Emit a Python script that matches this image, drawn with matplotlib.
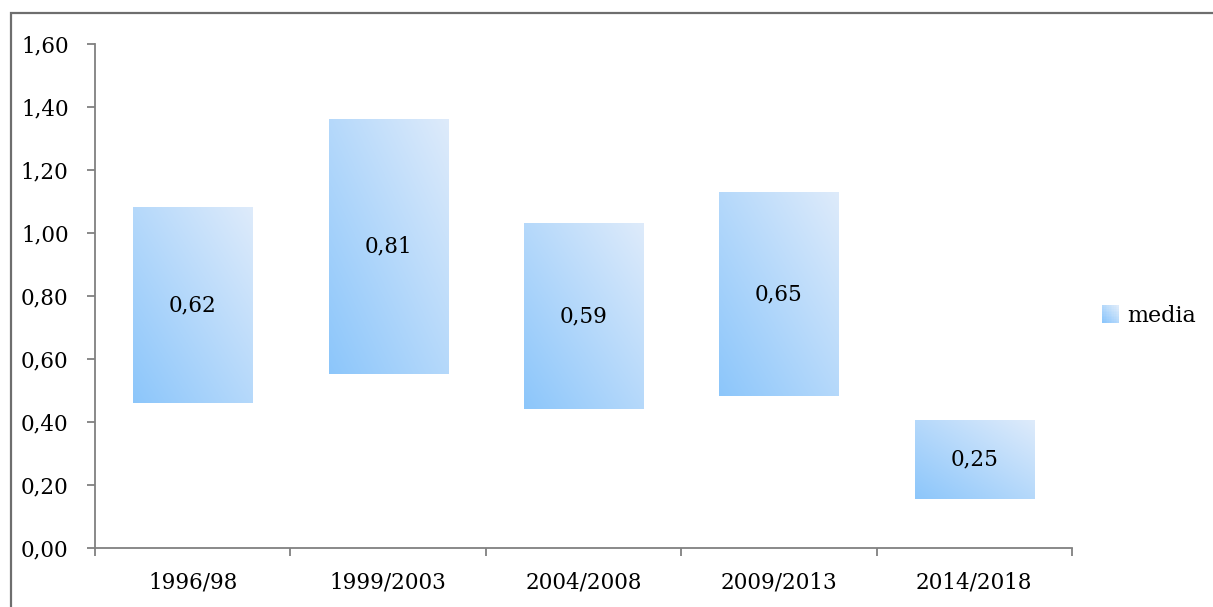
import numpy as np
import matplotlib
matplotlib.use("Agg")
import matplotlib.pyplot as plt
from matplotlib.colors import LinearSegmentedColormap, to_rgb
from matplotlib.patches import Rectangle
from matplotlib.ticker import FixedLocator, NullFormatter
from matplotlib.legend_handler import HandlerBase

# Periods, lower bound of each range and the range width ("media")
periods = ["1996/98", "1999/2003", "2004/2008", "2009/2013", "2014/2018"]
lower = [0.46, 0.55, 0.44, 0.48, 0.155]
media = [0.62, 0.81, 0.59, 0.65, 0.25]
yticks = [0.0, 0.2, 0.4, 0.6, 0.8, 1.0, 1.2, 1.4, 1.6]

c_dark = "#8cc6fb"
c_light = "#deebfa"
cmap = LinearSegmentedColormap.from_list("blues_grad", [c_dark, c_light])

plt.rcParams["font.family"] = ["DejaVu Serif"]
FS = 15.5

W, H = 1213, 607
fig = plt.figure(figsize=(W / 100, H / 100), dpi=100)

# outer frame of the chart area
fig.patches.append(Rectangle((11 / W, -0.05), 1.2, 1 - 13 / H + 0.05,
                             transform=fig.transFigure, fill=False,
                             edgecolor="#6e6e6e", linewidth=1.6))

ax = fig.add_axes([95 / W, (H - 547.7) / H, (1072 - 95) / W, (547.7 - 43.5) / H])
x = np.arange(len(periods))
bars = ax.bar(x, media, bottom=lower, width=0.61, color="none", edgecolor="none")

# diagonal gradient fill, clipped to each bar
u = np.linspace(0, 1, 200)
gx, gy = np.meshgrid(u, u)
grad = (gx + (1 - gy)) / 2.0
for b in bars:
    x0, y0 = b.get_x(), b.get_y()
    w, h = b.get_width(), b.get_height()
    im = ax.imshow(grad, cmap=cmap, vmin=0, vmax=1, aspect="auto",
                   extent=[x0, x0 + w, y0, y0 + h], origin="upper",
                   interpolation="bilinear", zorder=1)
    im.set_clip_path(b)

for xi, lo, m in zip(x, lower, media):
    ax.text(xi, lo + m / 2, f"{m:.2f}".replace(".", ","), ha="center",
            va="center", fontsize=FS, color="black", zorder=3)

ax.set_xlim(-0.5, len(periods) - 0.5)
ax.set_ylim(0, 1.6)
ax.set_yticks(yticks)
ax.set_yticklabels([f"{v:.2f}".replace(".", ",") for v in yticks], fontsize=FS)
ax.xaxis.set_major_locator(FixedLocator(np.arange(len(periods) + 1) - 0.5))
ax.xaxis.set_major_formatter(NullFormatter())
ax.xaxis.set_minor_locator(FixedLocator(x))
ax.set_xticklabels(periods, minor=True, fontsize=FS)
ax.tick_params(axis="x", which="minor", length=0, pad=17)
ax.tick_params(axis="x", which="major", length=6, width=1.3, color="#808080")
ax.tick_params(axis="y", length=6, width=1.3, color="#808080", pad=13)
for s in ["top", "right"]:
    ax.spines[s].set_visible(False)
for s in ["left", "bottom"]:
    ax.spines[s].set_color("#808080")
    ax.spines[s].set_linewidth(1.3)
ax.set_xlim(-0.5, len(periods) - 0.5)


class GradientSquare(HandlerBase):
    def create_artists(self, legend, orig_handle, xdescent, ydescent,
                       width, height, fontsize, trans):
        n = 10
        s = min(width, height)
        x0 = -xdescent + (width - s)
        y0 = -ydescent + (height - s) / 2
        c0, c1 = np.array(to_rgb(c_dark)), np.array(to_rgb(c_light))
        arts = []
        for i in range(n):
            for j in range(n):
                t = (i + j) / (2 * (n - 1))
                arts.append(Rectangle((x0 + i * s / n, y0 + j * s / n),
                                      s / n * 1.05, s / n * 1.05,
                                      facecolor=c0 + (c1 - c0) * t,
                                      edgecolor="none", transform=trans))
        return arts


proxy = Rectangle((0, 0), 1, 1)
leg = ax.legend([proxy], ["media"], handler_map={Rectangle: GradientSquare()},
                loc="center left", bbox_to_anchor=(1.021, 0.46), frameon=False,
                fontsize=16, handlelength=0.8, handleheight=0.8,
                handletextpad=0.35, borderaxespad=0)

fig.savefig("out.png", dpi=100)
